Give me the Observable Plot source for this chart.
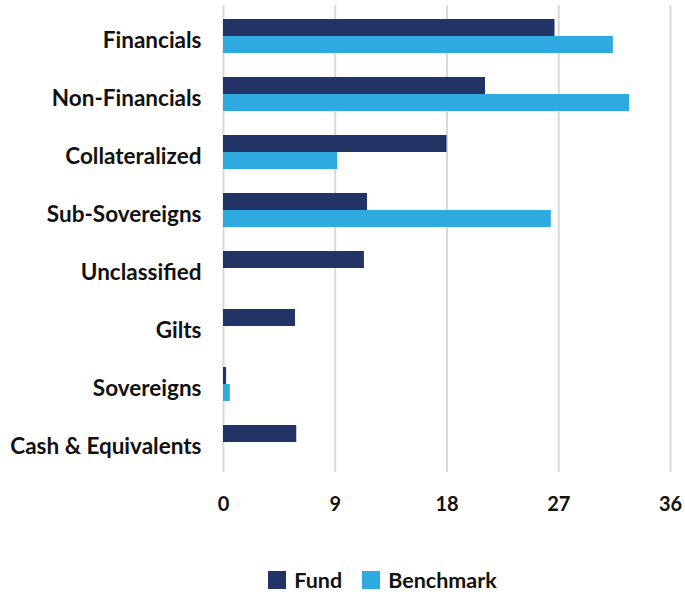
<!DOCTYPE html>
<html>
<head>
<meta charset="utf-8">
<script src="https://cdn.jsdelivr.net/npm/d3@7"></script>
<script src="https://cdn.jsdelivr.net/npm/@observablehq/plot@0.6"></script>
<style>
  html, body { margin: 0; padding: 0; background: #fff; }
  body { position: relative; width: 685px; height: 595px; overflow: hidden; font-family: Lato, "Open Sans", sans-serif; }
  #legend { position: absolute; left: 0; top: 567px; width: 685px; display: flex; justify-content: center; align-items: center; gap: 20px; height: 26px; line-height: 26px; font-weight: 700; font-size: 21.5px; color: #111; box-sizing: border-box; padding-left: 80px; }
  #legend .item { display: flex; align-items: center; gap: 8px; }
  #legend .sw { width: 18px; height: 18px; display: inline-block; }
</style>
</head>
<body>
<div id="chart"></div>
<div id="legend"></div>
<script>
const categories = ["Financials", "Non-Financials", "Collateralized", "Sub-Sovereigns", "Unclassified", "Gilts", "Sovereigns", "Cash & Equivalents"];
const fundValues = [26.7, 21.1, 18.0, 11.6, 11.35, 5.8, 0.25, 5.9];
const benchmarkValues = [31.4, 32.7, 9.2, 26.4, null, null, 0.55, null];
const seriesNames = ["Fund", "Benchmark"];
const seriesColors = ["#223465", "#2eaae0"];
const xTicks = [0, 9, 18, 27, 36];

const fundData = categories.map((c, i) => ({category: c, value: fundValues[i]}));
const benchData = categories.map((c, i) => ({category: c, value: benchmarkValues[i]})).filter(d => d.value != null);

const chart = Plot.plot({
  width: 685,
  height: 565,
  marginLeft: 223,
  marginRight: 15,
  marginTop: 5,
  marginBottom: 93,
  style: {fontFamily: "Lato, 'Open Sans', sans-serif", fontWeight: 700, fontSize: "20px", color: "#111", background: "#fff"},
  x: {domain: [0, 36], ticks: xTicks, label: null, tickSize: 0, tickPadding: 24},
  y: {domain: categories, paddingInner: 0.418, paddingOuter: 0.209, label: null, tickSize: 0, tickPadding: 22},
  marks: [
    Plot.ruleX(xTicks, {stroke: "#d9d9d9", strokeWidth: 2}),
    Plot.barX(fundData, {x: "value", y: "category", fill: seriesColors[0], insetBottom: 17}),
    Plot.barX(benchData, {x: "value", y: "category", fill: seriesColors[1], insetTop: 17}),
    Plot.axisY({tickSize: 0, tickPadding: 22, fontSize: 22.5, dy: 4, label: null})
  ]
});
document.getElementById("chart").appendChild(chart);

const legend = document.getElementById("legend");
seriesNames.forEach((name, i) => {
  const item = document.createElement("span");
  item.className = "item";
  const sw = document.createElement("span");
  sw.className = "sw";
  sw.style.background = seriesColors[i];
  item.appendChild(sw);
  item.appendChild(document.createTextNode(name));
  legend.appendChild(item);
});
</script>
</body>
</html>
